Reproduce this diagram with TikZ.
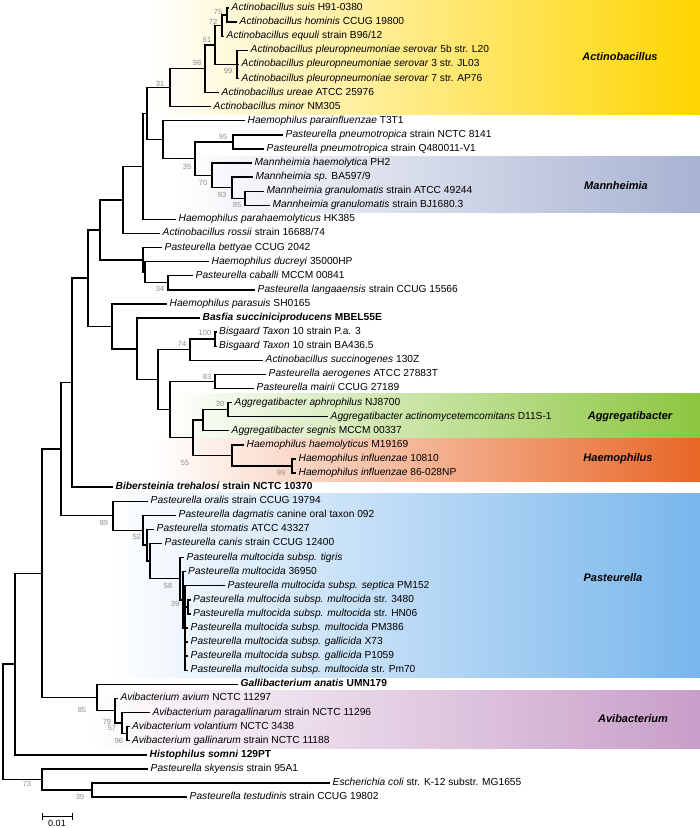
\documentclass[tikz,border=0pt]{standalone}
\usepackage{fontspec}
\setmainfont{Liberation Sans}
\definecolor{actcol}{RGB}{255,213,0}
\definecolor{mancol}{RGB}{168,179,210}
\definecolor{aggcol}{RGB}{140,198,63}
\definecolor{haecol}{RGB}{232,102,38}
\definecolor{pascol}{RGB}{120,182,236}
\definecolor{avicol}{RGB}{200,158,200}
\definecolor{bootcol}{RGB}{140,140,140}
\begin{document}
\begin{tikzpicture}[x=1pt,y=-1pt,
  br/.style={line width=1.4pt},
  leaf/.style={anchor=west, inner xsep=2.5pt, inner ysep=0pt, text height=7.3pt, text depth=2.2pt, font=\fontsize{10.2}{12}\selectfont},
  boot/.style={text=bootcol, inner sep=0pt, font=\fontsize{7.5}{9}\selectfont},
  grp/.style={inner sep=0pt, font=\fontsize{11}{13}\selectfont\bfseries\itshape}]
\useasboundingbox (0,0) rectangle (700,828);
% ---- coloured bands ----
\shade[left color=white, right color=actcol] (150,0) rectangle (700,114.3);
\shade[left color=white, right color=mancol] (175,156) rectangle (700,212.7);
\shade[left color=white, right color=aggcol] (165,393) rectangle (700,438);
\shade[left color=white, right color=haecol] (155,438) rectangle (700,481);
\shade[left color=white, right color=pascol] (110,493) rectangle (700,677);
\shade[left color=white, right color=avicol] (90,690) rectangle (700,748);
% ---- group labels ----
\node[grp] (gA) at (620,57) {Actinobacillus};
\node[grp] (gM) at (616,186) {Mannheimia};
\node[grp] (gAg) at (630,417) {Aggregatibacter};
\node[grp] (gH) at (618,459) {Haemophilus};
\node[grp] (gP) at (613,578) {Pasteurella};
\node[grp] (gAv) at (633,719) {Avibacterium};
% ---- leaves ----
\node[leaf] (L1) at (229,8.0) {\textit{Actinobacillus suis} H91-0380};
\node[leaf] (L2) at (237,22.1) {\textit{Actinobacillus hominis} CCUG 19800};
\node[leaf] (L3) at (224,36.2) {\textit{Actinobacillus equuli} strain B96/12};
\node[leaf] (L4) at (248,50.3) {\textit{Actinobacillus pleuropneumoniae serovar} 5b str. L20};
\node[leaf] (L5) at (239,64.4) {\textit{Actinobacillus pleuropneumoniae serovar} 3 str. JL03};
\node[leaf] (L6) at (239,78.5) {\textit{Actinobacillus pleuropneumoniae serovar} 7 str. AP76};
\node[leaf] (L7) at (219,92.5) {\textit{Actinobacillus ureae} ATCC 25976};
\node[leaf] (L8) at (211,106.6) {\textit{Actinobacillus minor} NM305};
\node[leaf] (L9) at (245,120.7) {\textit{Haemophilus parainfluenzae} T3T1};
\node[leaf] (L10) at (283,134.8) {\textit{Pasteurella pneumotropica} strain NCTC 8141};
\node[leaf] (L11) at (264,148.9) {\textit{Pasteurella pneumotropica} strain Q480011-V1};
\node[leaf] (L12) at (252,163.0) {\textit{Mannheimia haemolytica} PH2};
\node[leaf] (L13) at (253,177.1) {\textit{Mannheimia sp.} BA597/9};
\node[leaf] (L14) at (264,191.2) {\textit{Mannheimia granulomatis} strain ATCC 49244};
\node[leaf] (L15) at (270,205.3) {\textit{Mannheimia granulomatis} strain BJ1680.3};
\node[leaf] (L16) at (176,219.4) {\textit{Haemophilus parahaemolyticus} HK385};
\node[leaf] (L17) at (160,233.4) {\textit{Actinobacillus rossii} strain 16688/74};
\node[leaf] (L18) at (162,247.5) {\textit{Pasteurella bettyae} CCUG 2042};
\node[leaf] (L19) at (209,261.6) {\textit{Haemophilus ducreyi} 35000HP};
\node[leaf] (L20) at (193,275.7) {\textit{Pasteurella caballi} MCCM 00841};
\node[leaf] (L21) at (255,289.8) {\textit{Pasteurella langaaensis} strain CCUG 15566};
\node[leaf] (L22) at (167,303.9) {\textit{Haemophilus parasuis} SH0165};
\node[leaf] (L23) at (200,318.0) {\textbf{\textit{Basfia succiniciproducens} MBEL55E}};
\node[leaf] (L24) at (216.5,332.1) {\textit{Bisgaard Taxon} 10 strain P.a. 3};
\node[leaf] (L25) at (216.5,346.2) {\textit{Bisgaard Taxon} 10 strain BA436.5};
\node[leaf] (L26) at (263,360.3) {\textit{Actinobacillus succinogenes} 130Z};
\node[leaf] (L27) at (266,374.3) {\textit{Pasteurella aerogenes} ATCC 27883T};
\node[leaf] (L28) at (254,388.4) {\textit{Pasteurella mairii} CCUG 27189};
\node[leaf] (L29) at (232,402.5) {\textit{Aggregatibacter aphrophilus} NJ8700};
\node[leaf] (L30) at (328,416.6) {\textit{Aggregatibacter actinomycetemcomitans} D11S-1};
\node[leaf] (L31) at (229,430.7) {\textit{Aggregatibacter segnis} MCCM 00337};
\node[leaf] (L32) at (244,444.8) {\textit{Haemophilus haemolyticus} M19169};
\node[leaf] (L33) at (296,458.9) {\textit{Haemophilus influenzae} 10810};
\node[leaf] (L34) at (296,473.0) {\textit{Haemophilus influenzae} 86-028NP};
\node[leaf] (L35) at (113,487.1) {\textbf{\textit{Bibersteinia trehalosi} strain NCTC 10370}};
\node[leaf] (L36) at (148,501.2) {\textit{Pasteurella oralis} strain CCUG 19794};
\node[leaf] (L37) at (176,515.2) {\textit{Pasteurella dagmatis} canine oral taxon 092};
\node[leaf] (L38) at (154,529.3) {\textit{Pasteurella stomatis} ATCC 43327};
\node[leaf] (L39) at (162,543.4) {\textit{Pasteurella canis} strain CCUG 12400};
\node[leaf] (L40) at (184,557.5) {\textit{Pasteurella multocida subsp. tigris}};
\node[leaf] (L41) at (185.5,571.6) {\textit{Pasteurella multocida} 36950};
\node[leaf] (L42) at (225,585.7) {\textit{Pasteurella multocida subsp. septica} PM152};
\node[leaf] (L43) at (190.5,599.8) {\textit{Pasteurella multocida subsp. multocida} str. 3480};
\node[leaf] (L44) at (190.5,613.9) {\textit{Pasteurella multocida subsp. multocida} str. HN06};
\node[leaf] (L45) at (188,628.0) {\textit{Pasteurella multocida subsp. multocida} PM386};
\node[leaf] (L46) at (188,642.1) {\textit{Pasteurella multocida subsp. gallicida} X73};
\node[leaf] (L47) at (188,656.1) {\textit{Pasteurella multocida subsp. gallicida} P1059};
\node[leaf] (L48) at (188,670.2) {\textit{Pasteurella multocida subsp. multocida} str. Pm70};
\node[leaf] (L49) at (238,684.3) {\textbf{\textit{Gallibacterium anatis} UMN179}};
\node[leaf] (L50) at (118,698.4) {\textit{Avibacterium avium} NCTC 11297};
\node[leaf] (L51) at (150,712.5) {\textit{Avibacterium paragallinarum} strain NCTC 11296};
\node[leaf] (L52) at (129.5,726.6) {\textit{Avibacterium volantium} NCTC 3438};
\node[leaf] (L53) at (129.5,740.7) {\textit{Avibacterium gallinarum} strain NCTC 11188};
\node[leaf] (L54) at (147,754.8) {\textbf{\textit{Histophilus somni} 129PT}};
\node[leaf] (L55) at (148,768.9) {\textit{Pasteurella skyensis} strain 95A1};
\node[leaf] (L56) at (330,783.0) {\textit{Escherichia coli} str. K-12 substr. MG1655};
\node[leaf] (L57) at (187,797.0) {\textit{Pasteurella testudinis} strain CCUG 19802};
% ---- internal nodes ----
\coordinate (n75) at (227,15.05);
\coordinate (n72) at (222,25.6);
\coordinate (n99a) at (237,64.4);
\coordinate (n61) at (215,45.0);
\coordinate (n98) at (205,68.75);
\coordinate (n31) at (170,87.7);
\coordinate (n85m) at (245,198.25);
\coordinate (n93) at (232,187.7);
\coordinate (n70) at (212,175.3);
\coordinate (n95) at (233,141.85);
\coordinate (n35) at (195,158.6);
\coordinate (nH1) at (163,139.6);
\coordinate (p1) at (147,113.7);
\coordinate (p2) at (143,166.5);
\coordinate (p3) at (123,200.0);
\coordinate (n34) at (168,282.75);
\coordinate (q2) at (145,272.2);
\coordinate (q1) at (143,259.85);
\coordinate (p4) at (100,229.9);
\coordinate (n100) at (215,339.15);
\coordinate (n74) at (190,349.7);
\coordinate (n83) at (215,381.35);
\coordinate (n30) at (228,409.55);
\coordinate (nAgg) at (203,420.1);
\coordinate (n99b) at (292,465.95);
\coordinate (n55) at (232,455.4);
\coordinate (t3) at (193,437.75);
\coordinate (t2) at (170,409.55);
\coordinate (s3) at (158,379.6);
\coordinate (s2) at (137,348.8);
\coordinate (s1) at (112,326.35);
\coordinate (v) at (88,278.1);
\coordinate (w) at (72,382.6);
\coordinate (n39) at (188,606.85);
\coordinate (m2) at (185,627.95);
\coordinate (m1) at (183,599.8);
\coordinate (n58) at (180,578.65);
\coordinate (nc) at (150,561.0);
\coordinate (n52) at (147,545.15);
\coordinate (nd) at (143,530.2);
\coordinate (n89) at (113,515.7);
\coordinate (z) at (61,449.15);
\coordinate (n96) at (127,733.65);
\coordinate (n57) at (122,723.1);
\coordinate (n79) at (115,710.75);
\coordinate (g) at (97,697.5);
\coordinate (yy) at (42,573.3);
\coordinate (xn) at (15,664.05);
\coordinate (n39c) at (92,790.0);
\coordinate (n73) at (42,779.45);
\coordinate (root) at (3,721.75);
% ---- branches ----
\foreach \p/\c in {n75/L1.west, n75/L2.west, n72/n75, n72/L3.west,
  n99a/L4.west, n99a/L5.west, n99a/L6.west, n61/n72, n61/n99a,
  n98/n61, n98/L7.west, n31/n98, n31/L8.west,
  n85m/L14.west, n85m/L15.west, n93/L13.west, n93/n85m, n70/L12.west, n70/n93,
  n95/L10.west, n95/L11.west, n35/n95, n35/n70, nH1/L9.west, nH1/n35,
  p1/n31, p1/nH1, p2/p1, p2/L16.west, p3/p2, p3/L17.west,
  n34/L20.west, n34/L21.west, q2/L19.west, q2/n34, q1/L18.west, q1/q2,
  p4/p3, p4/q1,
  n100/L24.west, n100/L25.west, n74/n100, n74/L26.west,
  n83/L27.west, n83/L28.west, n30/L29.west, n30/L30.west, nAgg/n30, nAgg/L31.west,
  n99b/L33.west, n99b/L34.west, n55/L32.west, n55/n99b, t3/nAgg, t3/n55,
  t2/n83, t2/t3, s3/n74, s3/t2, s2/L23.west, s2/s3, s1/L22.west, s1/s2,
  v/p4, v/s1, w/v, w/L35.west,
  n39/L43.west, n39/L44.west, m2/L42.west, m2/n39, m2/L45.west, m2/L46.west, m2/L47.west, m2/L48.west,
  m1/L41.west, m1/m2, n58/L40.west, n58/m1, nc/L39.west, nc/n58, n52/L38.west, n52/nc,
  nd/L37.west, nd/n52, n89/L36.west, n89/nd, z/w, z/n89,
  n96/L52.west, n96/L53.west, n57/L51.west, n57/n96, n79/L50.west, n79/n57,
  g/L49.west, g/n79, yy/z, yy/g, xn/yy, xn/L54.west,
  n39c/L56.west, n39c/L57.west, n73/L55.west, n73/n39c, root/xn, root/n73}
  \draw[br] (\p) |- (\c);
% ---- bootstrap values ----
\node[boot] (b75) at (218,12) {75};
\node[boot] (b72) at (213,22) {72};
\node[boot] (b61) at (207,40) {61};
\node[boot] (b98) at (197,63) {98};
\node[boot] (b99) at (228,71) {99};
\node[boot] (b31) at (160,84) {31};
\node[boot] (b95) at (223,137) {95};
\node[boot] (b35) at (187,167) {35};
\node[boot] (b70) at (203,183) {70};
\node[boot] (b93) at (222,195) {93};
\node[boot] (b85) at (237,205) {85};
\node[boot] (b34) at (160,289) {34};
\node[boot] (b100) at (205,333) {100};
\node[boot] (b74) at (182,344) {74};
\node[boot] (b83) at (207,377) {83};
\node[boot] (b30) at (220,404) {30};
\node[boot] (b55) at (185,463) {55};
\node[boot] (b99h) at (281,473) {99};
\node[boot] (b89) at (104,523) {89};
\node[boot] (b52) at (137,537) {52};
\node[boot] (b58) at (168,586) {58};
\node[boot] (b39) at (175,604) {39};
\node[boot] (b85g) at (82,710) {85};
\node[boot] (b79) at (107,722) {79};
\node[boot] (b57) at (112,728) {57};
\node[boot] (b96) at (119,741) {96};
\node[boot] (b73) at (27,784) {73};
\node[boot] (b39e) at (80,797) {39};
% ---- scale bar ----
\coordinate (sa) at (42,816);
\coordinate (sb) at (72,816);
\draw[line width=0.9pt] (sa) -- (sb);
\draw[line width=0.9pt] ([yshift=-3.5pt]sa) -- ([yshift=3.5pt]sa);
\draw[line width=0.9pt] ([yshift=-3.5pt]sb) -- ([yshift=3.5pt]sb);
\node[inner sep=0pt, font=\fontsize{9}{10}\selectfont] (sl) at (57,823.5) {0.01};
\end{tikzpicture}
\end{document}
